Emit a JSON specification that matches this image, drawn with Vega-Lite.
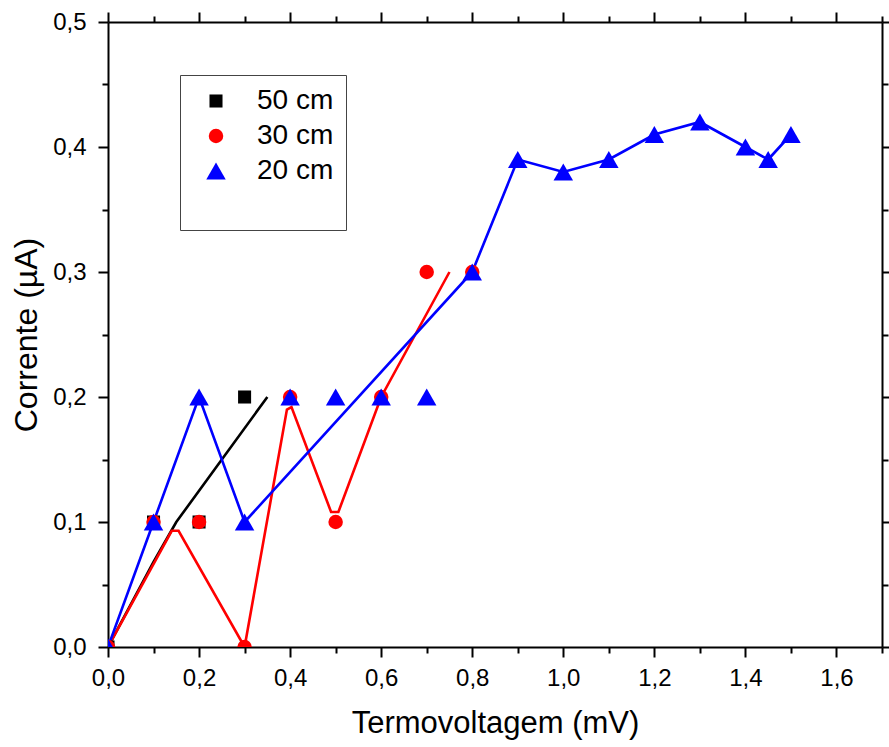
{
  "$schema": "https://vega.github.io/schema/vega-lite/v6.json",
  "autosize": {"type": "none"},
  "padding": {"left": 108, "top": 22, "right": 7, "bottom": 100},
  "width": 774,
  "height": 625,
  "config": {
    "font": "Liberation Sans",
    "view": {"stroke": null},
    "axis": {
      "grid": false,
      "domainColor": "#000000",
      "domainWidth": 2,
      "tickColor": "#000000",
      "tickWidth": 2,
      "labelColor": "#000000",
      "labelFontSize": 24,
      "titleColor": "#000000",
      "titleFontWeight": "normal",
      "labelFlush": false,
      "labelOverlap": false
    },
    "legend": {
      "orient": "none",
      "legendX": 72,
      "legendY": 53,
      "titleOrient": "bottom",
      "titleFontSize": 30,
      "titlePadding": 3,
      "strokeColor": "#444444",
      "padding": 12,
      "symbolOffset": 10,
      "labelOffset": 27,
      "labelFontSize": 28,
      "labelColor": "#000000",
      "rowPadding": 7,
      "symbolStrokeWidth": 0
    }
  },
  "datasets": {
    "fits": [
      {"series": "50 cm", "x": 0, "y": 0},
      {"series": "50 cm", "x": 0.1, "y": 0.068},
      {"series": "50 cm", "x": 0.15, "y": 0.1},
      {"series": "50 cm", "x": 0.25, "y": 0.15},
      {"series": "50 cm", "x": 0.35, "y": 0.2},
      {"series": "30 cm", "x": 0, "y": 0},
      {"series": "30 cm", "x": 0.14, "y": 0.093},
      {"series": "30 cm", "x": 0.155, "y": 0.093},
      {"series": "30 cm", "x": 0.3, "y": 0},
      {"series": "30 cm", "x": 0.393, "y": 0.19},
      {"series": "30 cm", "x": 0.403, "y": 0.192},
      {"series": "30 cm", "x": 0.49, "y": 0.108},
      {"series": "30 cm", "x": 0.506, "y": 0.108},
      {"series": "30 cm", "x": 0.6, "y": 0.2},
      {"series": "30 cm", "x": 0.75, "y": 0.3},
      {"series": "20 cm", "x": 0, "y": 0},
      {"series": "20 cm", "x": 0.1, "y": 0.1},
      {"series": "20 cm", "x": 0.2, "y": 0.2},
      {"series": "20 cm", "x": 0.3, "y": 0.1},
      {"series": "20 cm", "x": 0.8, "y": 0.3},
      {"series": "20 cm", "x": 0.9, "y": 0.39},
      {"series": "20 cm", "x": 1.0, "y": 0.38},
      {"series": "20 cm", "x": 1.1, "y": 0.39},
      {"series": "20 cm", "x": 1.2, "y": 0.41},
      {"series": "20 cm", "x": 1.3, "y": 0.42},
      {"series": "20 cm", "x": 1.4, "y": 0.4},
      {"series": "20 cm", "x": 1.45, "y": 0.39},
      {"series": "20 cm", "x": 1.5, "y": 0.41}
    ],
    "pts": [
      {"series": "50 cm", "x": 0, "y": 0},
      {"series": "50 cm", "x": 0.1, "y": 0.1},
      {"series": "50 cm", "x": 0.2, "y": 0.1},
      {"series": "50 cm", "x": 0.3, "y": 0.2},
      {"series": "30 cm", "x": 0, "y": 0},
      {"series": "30 cm", "x": 0.1, "y": 0.1},
      {"series": "30 cm", "x": 0.2, "y": 0.1},
      {"series": "30 cm", "x": 0.3, "y": 0},
      {"series": "30 cm", "x": 0.4, "y": 0.2},
      {"series": "30 cm", "x": 0.5, "y": 0.1},
      {"series": "30 cm", "x": 0.6, "y": 0.2},
      {"series": "30 cm", "x": 0.7, "y": 0.3},
      {"series": "30 cm", "x": 0.8, "y": 0.3},
      {"series": "20 cm", "x": 0, "y": 0},
      {"series": "20 cm", "x": 0.1, "y": 0.1},
      {"series": "20 cm", "x": 0.2, "y": 0.2},
      {"series": "20 cm", "x": 0.3, "y": 0.1},
      {"series": "20 cm", "x": 0.4, "y": 0.2},
      {"series": "20 cm", "x": 0.5, "y": 0.2},
      {"series": "20 cm", "x": 0.6, "y": 0.2},
      {"series": "20 cm", "x": 0.7, "y": 0.2},
      {"series": "20 cm", "x": 0.8, "y": 0.3},
      {"series": "20 cm", "x": 0.9, "y": 0.39},
      {"series": "20 cm", "x": 1.0, "y": 0.38},
      {"series": "20 cm", "x": 1.1, "y": 0.39},
      {"series": "20 cm", "x": 1.2, "y": 0.41},
      {"series": "20 cm", "x": 1.3, "y": 0.42},
      {"series": "20 cm", "x": 1.4, "y": 0.4},
      {"series": "20 cm", "x": 1.45, "y": 0.39},
      {"series": "20 cm", "x": 1.5, "y": 0.41}
    ]
  },
  "resolve": {
    "axis": {"x": "independent", "y": "independent"},
    "legend": {"stroke": "independent"}
  },
  "layer": [
    {
      "data": {"name": "fits"},
      "mark": {"type": "line", "strokeWidth": 2.6, "clip": true},
      "encoding": {
        "x": {
          "field": "x",
          "type": "quantitative",
          "scale": {"domain": [0, 1.7], "nice": false, "zero": false},
          "axis": {
            "orient": "bottom",
            "title": "Termovoltagem (mV)",
            "titleFontSize": 31,
            "values": [0, 0.1, 0.2, 0.3, 0.4, 0.5, 0.6, 0.7, 0.8, 0.9, 1.0, 1.1, 1.2, 1.3, 1.4, 1.5, 1.6, 1.7],
            "labelExpr": "round(datum.value * 10) % 2 == 0 ? replace(format(datum.value, '.1f'), '.', ',') : ''",
            "tickSize": {"condition": {"test": "round(datum.value * 10) % 2 == 0", "value": 10}, "value": 6},
            "labelPadding": 9,
            "titlePadding": 18
          }
        },
        "y": {
          "field": "y",
          "type": "quantitative",
          "scale": {"domain": [0, 0.5], "nice": false, "zero": false},
          "axis": {
            "orient": "left",
            "title": "Corrente (µA)",
            "titleFontSize": 32,
            "values": [0, 0.05, 0.1, 0.15, 0.2, 0.25, 0.3, 0.35, 0.4, 0.45, 0.5],
            "labelExpr": "round(datum.value * 20) % 2 == 0 ? replace(format(datum.value, '.1f'), '.', ',') : ''",
            "tickSize": {"condition": {"test": "round(datum.value * 20) % 2 == 0", "value": 10}, "value": 6},
            "labelPadding": 12,
            "titlePadding": 9
          }
        },
        "stroke": {
          "field": "series",
          "type": "nominal",
          "scale": {"domain": ["50 cm", "30 cm", "20 cm"], "range": ["#000000", "#ff0000", "#0000ff"]},
          "legend": null
        }
      }
    },
    {
      "data": {"name": "pts"},
      "mark": {"type": "point", "filled": true, "opacity": 1, "clip": true},
      "encoding": {
        "x": {
          "field": "x",
          "type": "quantitative",
          "scale": {"domain": [0, 1.7], "nice": false, "zero": false},
          "axis": {
            "orient": "top",
            "title": null,
            "labels": false,
            "values": [0, 0.1, 0.2, 0.3, 0.4, 0.5, 0.6, 0.7, 0.8, 0.9, 1.0, 1.1, 1.2, 1.3, 1.4, 1.5, 1.6, 1.7],
            "tickSize": {"condition": {"test": "round(datum.value * 10) % 2 == 0", "value": 10}, "value": 6}
          }
        },
        "y": {
          "field": "y",
          "type": "quantitative",
          "scale": {"domain": [0, 0.5], "nice": false, "zero": false},
          "axis": {
            "orient": "right",
            "title": null,
            "labels": false,
            "values": [0, 0.05, 0.1, 0.15, 0.2, 0.25, 0.3, 0.35, 0.4, 0.45, 0.5],
            "tickSize": {"condition": {"test": "round(datum.value * 20) % 2 == 0", "value": 10}, "value": 6}
          }
        },
        "color": {
          "field": "series",
          "type": "nominal",
          "title": " ",
          "sort": null,
          "scale": {"domain": ["50 cm", "30 cm", "20 cm"], "range": ["#000000", "#ff0000", "#0000ff"]}
        },
        "shape": {
          "field": "series",
          "type": "nominal",
          "title": " ",
          "sort": null,
          "scale": {"domain": ["50 cm", "30 cm", "20 cm"], "range": ["square", "circle", "triangle-up"]}
        },
        "size": {
          "field": "series",
          "type": "nominal",
          "title": " ",
          "sort": null,
          "scale": {"type": "ordinal", "domain": ["50 cm", "30 cm", "20 cm"], "range": [170, 210, 380]}
        }
      }
    }
  ]
}
